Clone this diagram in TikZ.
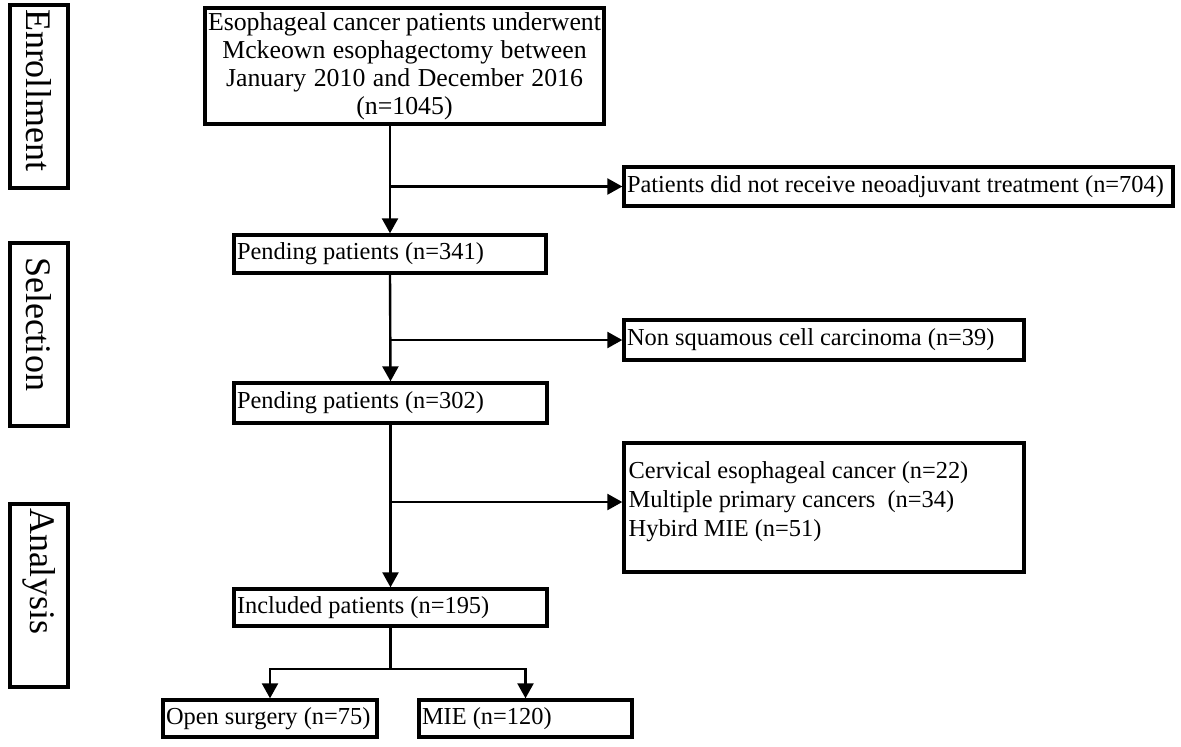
\documentclass[tikz,border=0pt]{standalone}
\usepackage{fontspec}
\setmainfont{Liberation Serif}
\usetikzlibrary{arrows.meta}
\newcommand\natsp{\spaceskip=0pt \xspaceskip=0pt \relax}

\begin{document}
\begin{tikzpicture}[x=0.5pt, y=-0.5pt,
    box/.style={draw, line width=1.7pt, inner xsep=1.5pt, inner ysep=0pt, align=left,
        font=\fontsize{12.2}{14.5}\selectfont},
    stage/.style={draw, line width=1.7pt, rotate=-90, minimum height=29pt, text width=87.5pt,
        inner xsep=2pt, align=left, font=\fontsize{18}{20}\selectfont},
    arr/.style={line width=1.2pt, -{Triangle[length=7.5pt, width=8pt]}},
    link/.style={line width=1.2pt}]
    \useasboundingbox (0,0) rectangle (1181,746);

    % Stages
    \node[stage] (enroll) at (39,96.5) {Enrollment};
    \node[stage] (select) at (39,334.5) {\hspace*{5pt}Selection};
    \node[stage] (analys) at (39,595.5) {Analysis};

    % Main column
    \node[box, align=center, text width=196.5pt, minimum height=58pt, font=\fontsize{12.9}{14}\selectfont]
        (start) at (404.5,66) {\natsp Esophageal cancer patients underwent\\Mckeown esophagectomy between\\January 2010 and December 2016\\(n=1045)};
    \node[box, text width=153pt, minimum height=19pt] (pend1) at (390,254) {\natsp Pending patients (n=341)};
    \node[box, text width=153.5pt, minimum height=20pt] (pend2) at (390.5,403) {\natsp Pending patients (n=302)};
    \node[box, text width=153.5pt, minimum height=18.5pt] (incl) at (390.5,607.5) {\natsp Included patients (n=195)};

    % Exclusions
    \node[box, text width=271.5pt, minimum height=19.5pt] (excl1) at (898.5,186.5) {\natsp Patients did not receive neoadjuvant treatment (n=704)};
    \node[box, text width=197pt, minimum height=20pt] (excl2) at (824,340) {\natsp Non squamous cell carcinoma (n=39)};
    \node[box, minimum width=200pt, minimum height=64.5pt] (excl3) at (824,507.5) {};
    \node[box, draw=none, text width=197pt, anchor=west] (excl3txt) at (624,502)
        {\natsp Cervical esophageal cancer (n=22)\\Multiple primary cancers~~(n=34)\\Hybird MIE (n=51)};

    % Groups
    \node[box, text width=104pt, minimum height=18.5pt] (open) at (270,718.5) {\natsp Open surgery (n=75)};
    \node[box, text width=103.5pt, minimum height=18.5pt] (mie) at (525.5,718.5) {\natsp MIE (n=120)};

    % Flow
    \draw[arr] (pend1.north |- start.south) -- (pend1.north);
    \draw[arr] (pend1.north |- excl1.west) -- (excl1.west);
    \draw[arr] (pend1.south) -- (pend2.north);
    \draw[arr] (pend2.north |- excl2.west) -- (excl2.west);
    \draw[arr] (pend2.south) -- (incl.north);
    \draw[arr] (incl.north |- excl3txt.west) -- (excl3.west |- excl3txt.west);

    % Split
    \coordinate (fork) at (390.5,669);
    \draw[link] (incl.south) -- (fork);
    \draw[arr] (fork) -| (open.north);
    \draw[arr] (fork) -| (mie.north);
\end{tikzpicture}
\end{document}
